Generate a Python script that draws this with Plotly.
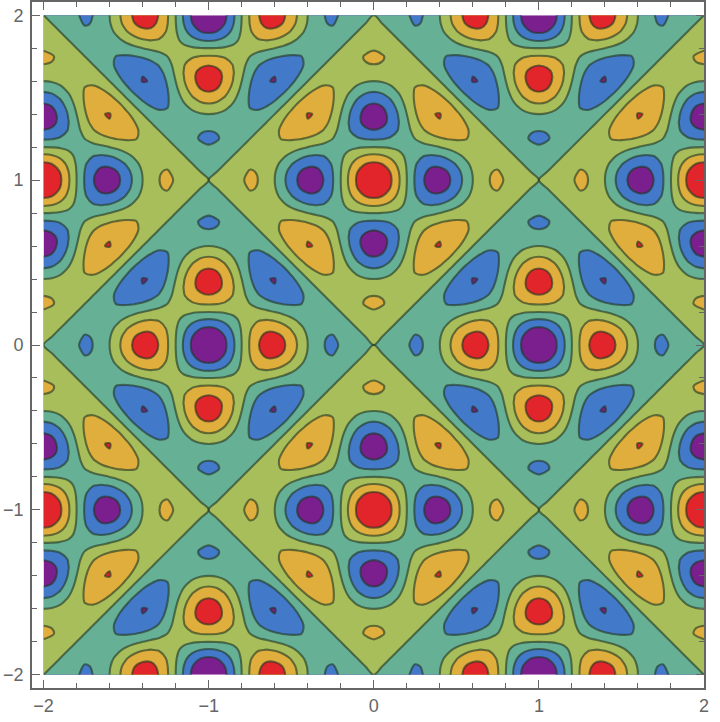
import plotly.graph_objects as go

# Band heights estimated from the contour picture for one repeating cell
# (0<=x<=1, 0<=y<=1, step 0.05). The values were hand-tabulated from a Chladni-like
# cosine pattern that I inferred from the picture, so they are a model-guided estimate.
# Each row lists the values right of the cell's zero diagonal; the lower part is the
# mirror with opposite sign, as the picture shows.
upper_rows = [
    [-.060,-.221,-.432,-.618,-.707,-.642,-.400,0,.497,1,1.405,1.618,1.576,1.260,.707,0,-.744,-1.397,-1.842,-2],
    [-.162,-.376,-.569,-.672,-.629,-.416,-.048,.415,.891,1.279,1.490,1.464,1.179,.672,.019,-.672,-1.280,-1.694,-1.842],
    [-.220,-.432,-.572,-.587,-.453,-.178,.192,.588,.926,1.130,1.145,.951,.572,.068,-.472,-.952,-1.280,-1.397],
    [-.230,-.416,-.511,-.489,-.350,-.119,.156,.415,.602,.673,.607,.416,.134,-.184,-.472,-.672,-.744],
    [-.218,-.389,-.487,-.500,-.434,-.309,-.154,0,.124,.198,.218,.191,.133,.068,.019,0],
    [-.218,-.416,-.572,-.672,-.707,-.672,-.572,-.416,-.218,0,.218,.416,.572,.672,.707],
    [-.254,-.519,-.764,-.951,-1.044,-1.019,-.864,-.588,-.218,.199,.607,.951,1.179,1.260],
    [-.323,-.673,-.988,-1.207,-1.275,-1.162,-.864,-.416,.123,.673,1.145,1.464,1.576],
    [-.402,-.809,-1.137,-1.309,-1.275,-1.019,-.572,0,.602,1.130,1.490,1.618],
    [-.454,-.864,-1.136,-1.207,-1.044,-.672,-.154,.415,.926,1.279,1.405],
    [-.454,-.809,-.988,-.951,-.707,-.309,.156,.588,.891,1],
    [-.402,-.673,-.764,-.672,-.434,-.119,.192,.415,.497],
    [-.323,-.519,-.572,-.500,-.350,-.178,-.048,0],
    [-.254,-.416,-.487,-.489,-.453,-.416,-.400],
    [-.218,-.389,-.511,-.587,-.629,-.642],
    [-.218,-.416,-.572,-.672,-.707],
    [-.230,-.432,-.569,-.618],
    [-.220,-.376,-.432],
    [-.162,-.221],
    [-.060],
]
x_ticks = [-2, -1, 0, 1, 2]
y_ticks = [-2, -1, 0, 1, 2]
band_levels = [-1.29, -.645, 0, .645, 1.29]
band_colors = ["#7B1F8E", "#4279C9", "#66B095", "#A8BE5A", "#E0AE3C", "#E1252A"]

N = 20
cell = [[0.0] * (N + 1) for _ in range(N + 1)]
for j, row in enumerate(upper_rows):
    for k, v in enumerate(row):
        i = j + 1 + k
        cell[j][i] = v
        cell[i][j] = -v


def fold(k):
    k = abs(k) % (2 * N)
    return 2 * N - k if k > N else k


idx = list(range(-2 * N, 2 * N + 1))
xs = [k / N for k in idx]
ys = [k / N for k in idx]
z = [[cell[fold(j)][fold(i)] for i in idx] for j in idx]

n = len(band_colors)
scale = []
for i, c in enumerate(band_colors):
    scale += [[i / n, c], [(i + 1) / n, c]]

fig = go.Figure(go.Contour(
    x=xs, y=ys, z=z,
    colorscale=scale, showscale=False, hoverinfo="skip",
    autocontour=False,
    contours=dict(start=band_levels[0], end=band_levels[-1], size=.645, coloring="fill"),
    line=dict(color="rgba(35,55,35,0.62)", width=2.1, smoothing=1.0),
    zmin=-1.6125, zmax=1.6125,
))

GRAY = "#666666"
minor = dict(dtick=.2, tick0=0, ticks="inside", ticklen=5, tickwidth=1, tickcolor=GRAY, showgrid=False)
common = dict(
    tickmode="array", ticks="inside", ticklen=8, tickwidth=1, tickcolor=GRAY,
    showline=True, linecolor=GRAY, linewidth=1.6, mirror="ticks", showgrid=False, zeroline=False,
    tickfont=dict(family="Liberation Sans", size=18, color=GRAY), minor=minor,
)
fig.update_xaxes(range=[-2.07, 2.0], tickvals=x_ticks, ticktext=["\u22122", "\u22121", "0", "1", "2"], ticklabelstandoff=1, **common)
fig.update_yaxes(range=[-2.08, 2.08], tickvals=y_ticks, ticktext=["\u22122", "\u22121", "0", "1", "2"], ticklabelstandoff=3, **common)
fig.update_layout(
    width=720, height=722, margin=dict(l=32, r=16, t=0, b=34, pad=0),
    paper_bgcolor="white", plot_bgcolor="white", showlegend=False,
)
fig.write_html("out.html", config={"displayModeBar": False}, post_script="document.body.style.margin='0';")
